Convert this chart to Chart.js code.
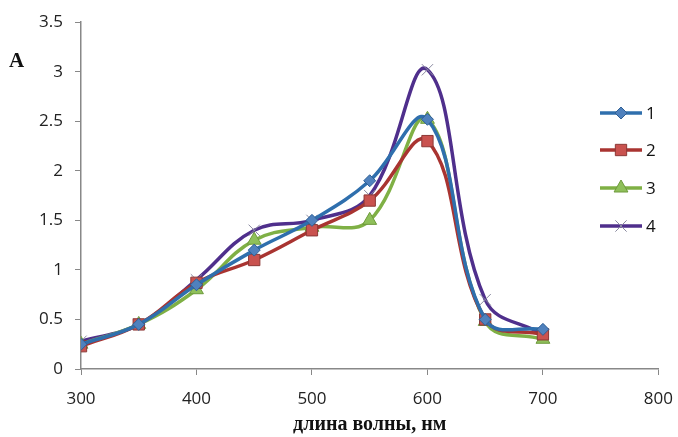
<!DOCTYPE html>
<html>
<head>
<meta charset="utf-8">
<script src="https://cdn.jsdelivr.net/npm/chart.js@4"></script>
<style>
  html, body { margin: 0; padding: 0; background: #fff; }
  #wrap { width: 678px; height: 437px; position: relative; }
</style>
</head>
<body>
<div id="wrap"><canvas id="chart"></canvas></div>
<script>
// wavelengths (nm) and absorbance for each sample
const wavelengths = [300, 350, 400, 450, 500, 550, 600, 650, 700];
const series1 = [0.25, 0.45, 0.85, 1.2, 1.5, 1.9, 2.52, 0.5, 0.4];
const series2 = [0.23, 0.45, 0.87, 1.1, 1.4, 1.7, 2.3, 0.5, 0.35];
const series3 = [0.25, 0.45, 0.8, 1.3, 1.43, 1.5, 2.52, 0.48, 0.3];
const series4 = [0.28, 0.45, 0.9, 1.4, 1.5, 1.75, 3.02, 0.7, 0.35];
const seriesNames = ['1', '2', '3', '4'];
const xTicks = [300, 400, 500, 600, 700, 800];

const toXY = vals => vals.map((v, i) => ({ x: wavelengths[i], y: v }));

const styles = [
  { line: '#2f6fad', fill: '#4f81bd', edge: '#2f5f94', shape: 'rectRot', r: 6 },
  { line: '#a93431', fill: '#c9524f', edge: '#8c3836', shape: 'rect', r: 8 },
  { line: '#7fb045', fill: '#8fc05a', edge: '#6e9a3c', shape: 'triangle', r: 8 },
  { line: '#4f2f8c', fill: '#8a8aa0', edge: '#8a8aa0', shape: 'crossRot', r: 8 }
];
const allData = [series1, series2, series3, series4];

const datasets = allData.map((vals, i) => ({
  label: seriesNames[i],
  data: toXY(vals),
  borderColor: styles[i].line,
  borderWidth: 3.5,
  tension: 0.4,
  pointStyle: styles[i].shape,
  pointRadius: styles[i].r,
  pointBackgroundColor: styles[i].fill,
  pointBorderColor: styles[i].edge,
  pointBorderWidth: 1
}));

// legend with line + marker, plus the "A" axis label
const extras = {
  id: 'extras',
  afterDraw(chart) {
    const c = chart.ctx;
    c.save();
    c.fillStyle = '#111';
    c.font = 'bold 21px "Liberation Serif"';
    c.textBaseline = 'middle';
    c.fillText('A', 9, 62);

    const x0 = 600, x1 = 642;
    const ys = [113, 150, 188, 226];
    datasets.forEach((ds, i) => {
      const y = ys[i];
      c.strokeStyle = ds.borderColor;
      c.lineWidth = 3.5;
      c.beginPath();
      c.moveTo(x0, y);
      c.lineTo(x1, y);
      c.stroke();
      c.fillStyle = ds.pointBackgroundColor;
      c.strokeStyle = ds.pointBorderColor;
      c.lineWidth = 1;
      Chart.helpers.drawPoint(c, { pointStyle: ds.pointStyle, radius: ds.pointRadius, rotation: 0, borderWidth: 1 }, (x0 + x1) / 2, y);
      c.fillStyle = '#111';
      c.font = '17px "Open Sans"';
      c.textBaseline = 'middle';
      c.fillText(ds.label, x1 + 4, y + 1);
    });
    c.restore();
  }
};

new Chart(document.getElementById('chart'), {
  type: 'line',
  data: { datasets },
  plugins: [extras],
  options: {
    responsive: true,
    maintainAspectRatio: false,
    animation: false,
    layout: { padding: { top: 19, right: 10, left: 0, bottom: 0 } },
    plugins: { legend: { display: false }, tooltip: { enabled: false } },
    scales: {
      x: {
        type: 'linear',
        min: 300,
        max: 800,
        afterBuildTicks: s => { s.ticks = xTicks.map(v => ({ value: v })); },
        afterFit: s => { s.height = 68; },
        grid: { drawOnChartArea: false, color: '#888', tickLength: 6 },
        border: { color: '#888', width: 1.5 },
        // tick padding also pads the right edge, so keep it small and push labels down via lineHeight
        ticks: { color: '#222', font: { family: 'Open Sans', size: 17, lineHeight: 2.2 }, padding: 5, maxRotation: 0 },
        title: {
          display: true,
          text: 'длина волны, нм',
          color: '#111',
          font: { family: 'Liberation Serif', size: 20, weight: 'bold' },
          padding: { top: 0, bottom: 0 }
        }
      },
      y: {
        min: 0,
        max: 3.5,
        afterFit: s => { s.width = 81; },
        grid: { drawOnChartArea: false, color: '#888', tickLength: 6 },
        border: { color: '#888', width: 1.5 },
        ticks: {
          stepSize: 0.5,
          color: '#222',
          font: { family: 'Open Sans', size: 17 },
          padding: 12,
          callback: v => String(Number(v.toFixed(1)))
        }
      }
    }
  }
});
</script>
</body>
</html>
